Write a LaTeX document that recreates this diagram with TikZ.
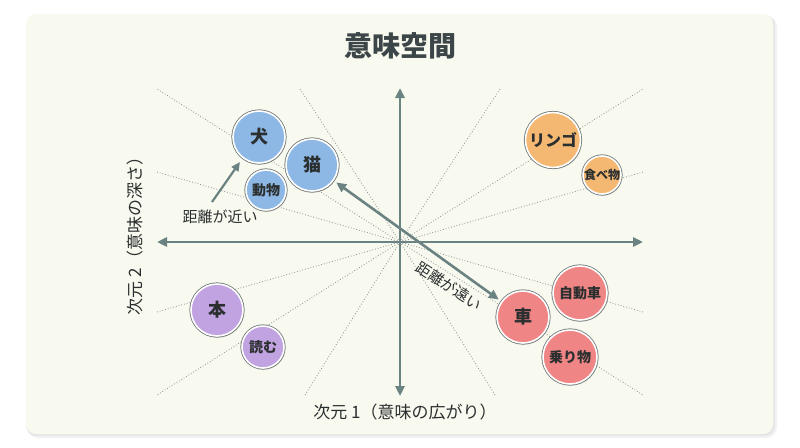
\documentclass[tikz,border=0pt]{standalone}
\usepackage{fontspec}
\setmainfont{Noto Sans CJK JP}
\usetikzlibrary{shadows,arrows.meta}

\definecolor{panelbg}{HTML}{F8FAEF}
\definecolor{axisgray}{HTML}{6B8282}
\definecolor{raygray}{HTML}{8C908C}
\definecolor{inkdark}{HTML}{2B2F30}
\definecolor{titlegray}{HTML}{3C4648}
\definecolor{rimgray}{HTML}{6E7676}
\definecolor{dogblue}{HTML}{8DB8E6}
\definecolor{fruitorange}{HTML}{F5B872}
\definecolor{bookpurple}{HTML}{C2A3E2}
\definecolor{carred}{HTML}{F08585}

\begin{document}
\begin{tikzpicture}[x=1pt, y=-1pt,
		axis/.style = {axisgray, line width=2.6pt, {Triangle[length=10pt,width=9pt]}-{Triangle[length=10pt,width=9pt]}},
		ray/.style = {raygray, dotted, line width=0.8pt},
		bubble/.style = {circle, inner sep=0pt, text=inkdark,
			drop shadow={shadow xshift=1.2pt, shadow yshift=-1.6pt, opacity=0.3},
			preaction={draw=rimgray, line width=3.2pt},
			draw=white, line width=1.6pt},
		big/.style = {minimum size=52pt, font=\bfseries\fontsize{18}{20}\selectfont},
		small/.style = {font=\bfseries\fontsize{14}{16}\selectfont},
		caption/.style = {text=inkdark, font=\fontsize{17}{19}\selectfont},
		distlabel/.style = {text=inkdark, font=\fontsize{15}{17}\selectfont}]
	\useasboundingbox (0, 0) rectangle (800, 447);
	
	% panel
	\fill[black, opacity=0.05, rounded corners=11] (27, 16) rectangle (777, 438);
	\fill[black, opacity=0.05, rounded corners=10] (26, 15) rectangle (775, 436);
	\fill[panelbg, rounded corners=10] (26, 14) rectangle (773, 434);
	
	\node[font=\bfseries\fontsize{28}{30}\selectfont, text=titlegray] (title) at (400, 46) {意味空間};
	
	% rays from the origin
	\coordinate (origin) at (400, 242);
	\foreach \dx/\dy in {-243/-153, -243/-70, -100/-153, 243/-153, 243/-70, 100/-153,
		-243/153, -243/70, -95/153, 243/153, 243/70, 95/153} {
		\draw[ray] (origin) -- ++(\dx, \dy);
	}
	
	% axes
	\coordinate (west) at (157, 242);
	\coordinate (east) at (643, 242);
	\coordinate (north) at (400, 88);
	\coordinate (south) at (400, 396);
	\draw[axis] (west) -- (east);
	\draw[axis] (south) -- (north);
	
	\node[caption] (xlabel) at (405, 412) {次元 1（意味の広がり）};
	\node[caption, rotate=90] (ylabel) at (135, 232) {次元 2（意味の深さ）};
	
	% word bubbles
	\node[bubble, big, fill=dogblue] (inu) at (259, 137) {犬};
	\node[bubble, big, fill=dogblue] (neko) at (312, 165) {猫};
	\node[bubble, small, fill=dogblue, minimum size=40pt] (doubutsu) at (266, 190) {動物};
	
	\node[bubble, fill=fruitorange, minimum size=55pt, font=\bfseries\fontsize{16}{18}\selectfont] (ringo) at (553, 140) {リンゴ};
	\node[bubble, fill=fruitorange, minimum size=38pt, font=\bfseries\fontsize{12}{14}\selectfont] (tabemono) at (602, 175) {食べ物};
	
	\node[bubble, big, fill=bookpurple] (hon) at (217, 310) {本};
	\node[bubble, small, fill=bookpurple, minimum size=42pt] (yomu) at (263, 347) {読む};
	
	\node[bubble, big, fill=carred] (kuruma) at (523, 317) {車};
	\node[bubble, small, fill=carred, minimum size=54pt] (jidousha) at (580, 293) {自動車};
	\node[bubble, small, fill=carred, minimum size=54pt] (norimono) at (570, 357) {乗り物};
	
	% distances
	\coordinate (near-tail) at (212, 202);
	\coordinate (near-head) at (240, 162);
	\draw[axisgray, line width=2.2pt, -{Triangle[length=9pt,width=8pt]}] (near-tail) -- (near-head);
	\node[distlabel] (nearlabel) at (220, 217) {距離が近い};
	
	\draw[axisgray, line width=2.6pt, {Triangle[length=10pt,width=9pt]}-{Triangle[length=10pt,width=9pt]}, shorten <=3pt, shorten >=3pt] (neko) -- (kuruma);
	\node[distlabel, rotate=-33] (farlabel) at (449, 286) {距離が遠い};
\end{tikzpicture}
\end{document}
